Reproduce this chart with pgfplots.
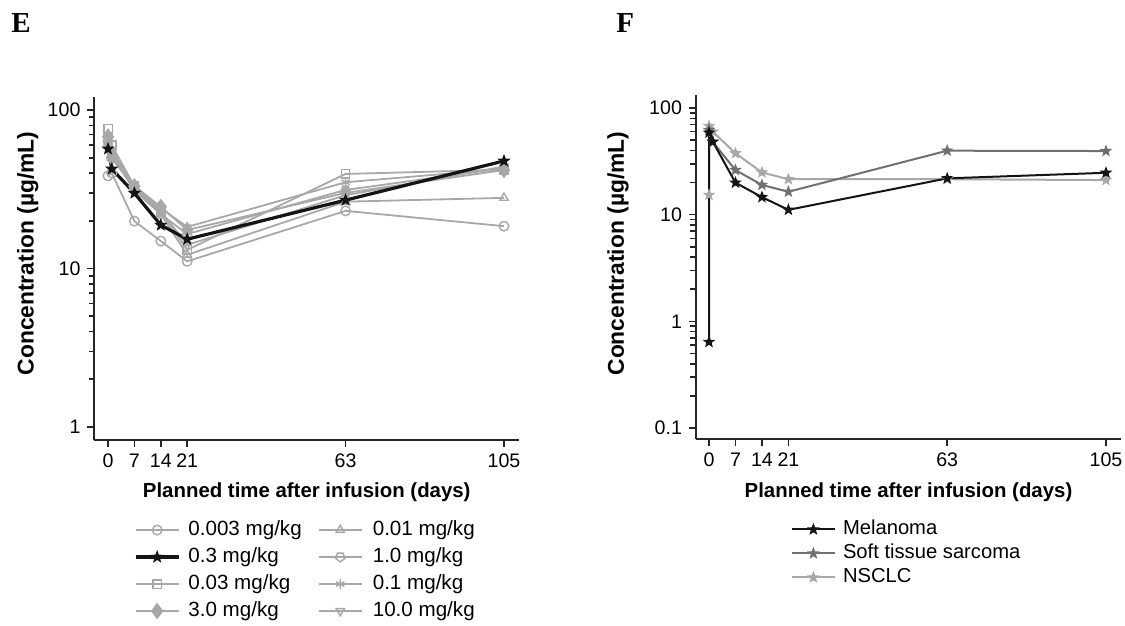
\documentclass[border=0pt]{standalone}
\usepackage{fontspec}
\setmainfont{Liberation Sans}
\newfontfamily\timesb{Liberation Serif}
\usepackage{pgfplots}
\pgfplotsset{compat=1.18}

\definecolor{lg}{RGB}{168,168,168}
\definecolor{mg}{RGB}{112,112,112}
\definecolor{dk}{RGB}{20,20,20}

\pgfdeclareplotmark{fstar}{%
  \pgfpathmoveto{\pgfpointpolar{90}{\pgfplotmarksize}}%
  \pgfpathlineto{\pgfpointpolar{126}{0.42\pgfplotmarksize}}%
  \pgfpathlineto{\pgfpointpolar{162}{\pgfplotmarksize}}%
  \pgfpathlineto{\pgfpointpolar{198}{0.42\pgfplotmarksize}}%
  \pgfpathlineto{\pgfpointpolar{234}{\pgfplotmarksize}}%
  \pgfpathlineto{\pgfpointpolar{270}{0.42\pgfplotmarksize}}%
  \pgfpathlineto{\pgfpointpolar{306}{\pgfplotmarksize}}%
  \pgfpathlineto{\pgfpointpolar{342}{0.42\pgfplotmarksize}}%
  \pgfpathlineto{\pgfpointpolar{18}{\pgfplotmarksize}}%
  \pgfpathlineto{\pgfpointpolar{54}{0.42\pgfplotmarksize}}%
  \pgfpathclose\pgfusepathqfill}

\pgfplotsset{
  legend image code/.code={\draw[mark repeat=2,mark phase=2,#1] plot coordinates {(0cm,0cm) (0.38cm,0cm) (0.76cm,0cm)};},
  /pgf/number format/assume math mode=true,
}

\begin{document}
\begin{tikzpicture}
\useasboundingbox (0,0) rectangle (562.5pt,313pt);
\node[anchor=base west, inner sep=0pt] at (5.5pt,296.5pt) {\timesb\bfseries\fontsize{14.5}{16}\selectfont E};
\node[anchor=base west, inner sep=0pt] at (308pt,296.5pt) {\timesb\bfseries\fontsize{14.5}{16}\selectfont F};

% ---------------- Panel E ----------------
\begin{axis}[at={(47.25pt,93pt)}, anchor=south west,
  scale only axis, width=212.25pt, height=171.5pt,
  ymode=log, axis lines=left,
  axis line style={-, line width=1pt, black!85},
  tick align=outside, major tick length=3.5pt,
  tick style={black!85, line width=0.8pt},
  xtick={0,7,14,21,63,105},
  xmin=-3.58, xmax=108.98, ymin=0.828, ymax=120.8,
  ytick={1,10,100}, yticklabels={1,10,100},
  tick label style={font=\fontsize{9.8}{11}\selectfont},
  label style={font=\bfseries\fontsize{10.2}{12}\selectfont},
  xlabel={Planned time after infusion (days)},
  ylabel={Concentration (µg/mL)},
  xlabel style={at={(axis description cs:0.5,-0.152)}, anchor=center},
  ylabel style={at={(axis description cs:-0.157,0.544)}, anchor=center, font=\bfseries\fontsize{11.4}{13}\selectfont},
  clip=false,
  legend cell align=left,
  legend columns=2,
  legend style={draw=none, fill=none, inner sep=0pt, font=\fontsize{10.3}{12}\selectfont,
     nodes={inner sep=1.5pt, text height=8pt, text depth=2.5pt},
     at={(axis description cs:0.092,-0.222)}, anchor=north west,
     /tikz/column 1/.style={column sep=2.5pt},
     /tikz/column 2/.style={column sep=6.5pt},
     /tikz/column 3/.style={column sep=3.5pt}},
]
\addlegendimage{color=lg, line width=0.9pt, mark=o, mark size=2.4pt, mark options={solid, line width=0.7pt}}\addlegendentry{0.003 mg/kg}
\addlegendimage{color=lg, line width=0.9pt, mark=triangle, mark size=2.4pt, mark options={solid, line width=0.7pt}}\addlegendentry{0.01 mg/kg}
\addlegendimage{color=dk, line width=1.6pt, mark=fstar, mark size=3.5pt}\addlegendentry{0.3 mg/kg}
\addlegendimage{color=lg, line width=0.9pt, mark=pentagon, mark size=2.4pt, mark options={solid, line width=0.7pt, rotate=180}}\addlegendentry{1.0 mg/kg}
\addlegendimage{color=lg, line width=0.9pt, mark=square, mark size=2.1pt, mark options={solid, line width=0.7pt}}\addlegendentry{0.03 mg/kg}
\addlegendimage{color=lg, line width=0.9pt, mark=asterisk, mark size=2.4pt, mark options={solid, line width=0.7pt}}\addlegendentry{0.1 mg/kg}
\addlegendimage{color=lg, line width=0.9pt, mark=diamond*, mark size=3.4pt, mark options={solid, fill=lg}}\addlegendentry{3.0 mg/kg}
\addlegendimage{color=lg, line width=0.9pt, mark=triangle, mark size=2.4pt, mark options={solid, line width=0.7pt, rotate=180}}\addlegendentry{10.0 mg/kg}

% minor y ticks of the log axis, as short horizontal marks on the axis line
\addplot[only marks, forget plot, mark=-, mark size=1.2pt, color=black!85,
  mark options={line width=0.8pt, xshift=-1.2pt}] coordinates {
  (-3.58,2) (-3.58,3) (-3.58,4) (-3.58,5) (-3.58,6) (-3.58,7) (-3.58,8) (-3.58,9)
  (-3.58,20) (-3.58,30) (-3.58,40) (-3.58,50) (-3.58,60) (-3.58,70) (-3.58,80) (-3.58,90)};

% 0.003 mg/kg
\addplot[color=lg, line width=0.9pt, mark=o, mark size=2.4pt, mark options={solid, line width=0.7pt}, forget plot] coordinates {(0,38.4) (1,40) (7,19.9) (14,14.9) (21,11.1) (63,23.1) (105,18.5)};
% 0.01 mg/kg
\addplot[color=lg, line width=0.9pt, mark=triangle, mark size=2.4pt, mark options={solid, line width=0.7pt}, forget plot] coordinates {(0,62) (1,50) (7,32) (14,22) (21,12.2) (63,26.4) (105,27.9)};
% 0.03 mg/kg
\addplot[color=lg, line width=0.9pt, mark=square, mark size=2.1pt, mark options={solid, line width=0.7pt}, forget plot] coordinates {(0,76) (1,60) (7,33) (14,23) (21,13.1) (63,39.5) (105,42)};
% 0.1 mg/kg
\addplot[color=lg, line width=0.9pt, mark=asterisk, mark size=2.4pt, mark options={solid, line width=0.7pt}, forget plot] coordinates {(0,70) (1,55) (7,33.5) (14,24) (21,18.3) (63,35) (105,42.5)};
% 1.0 mg/kg
\addplot[color=lg, line width=0.9pt, mark=pentagon, mark size=2.4pt, mark options={solid, line width=0.7pt, rotate=180}, forget plot] coordinates {(0,65) (1,52) (7,31) (14,22) (21,16.5) (63,31.3) (105,43)};
% 3.0 mg/kg
\addplot[color=lg, line width=0.9pt, mark=diamond*, mark size=3.4pt, mark options={solid, fill=lg}, forget plot] coordinates {(0,68) (1,50) (7,33) (14,24.5) (21,17.5) (63,30) (105,41.8)};
% 10.0 mg/kg
\addplot[color=lg, line width=0.9pt, mark=triangle, mark size=2.4pt, mark options={solid, line width=0.7pt, rotate=180}, forget plot] coordinates {(0,60) (1,53) (7,32) (14,23) (21,14.1) (63,29) (105,44)};
% 0.3 mg/kg
\addplot[color=dk, line width=1.6pt, mark=fstar, mark size=3.5pt, forget plot] coordinates {(0,56.8) (1,42.5) (7,29.9) (14,18.8) (21,15.3) (63,27.0) (105,47.7)};
\end{axis}

% ---------------- Panel F ----------------
\begin{axis}[at={(348pt,93.5pt)}, anchor=south west,
  scale only axis, width=212.5pt, height=172pt,
  ymode=log, axis lines=left,
  axis line style={-, line width=1pt, black!85},
  tick align=outside, major tick length=3.5pt,
  tick style={black!85, line width=0.8pt},
  xtick={0,7,14,21,63,105},
  xmin=-3.44, xmax=108.97, ymin=0.0789, ymax=132.4,
  ytick={0.1,1,10,100}, yticklabels={0.1,1,10,100},
  tick label style={font=\fontsize{9.8}{11}\selectfont},
  label style={font=\bfseries\fontsize{10.2}{12}\selectfont},
  xlabel={Planned time after infusion (days)},
  ylabel={Concentration (µg/mL)},
  xlabel style={at={(axis description cs:0.5,-0.154)}, anchor=center},
  ylabel style={at={(axis description cs:-0.1835,0.539)}, anchor=center, font=\bfseries\fontsize{11.4}{13}\selectfont},
  clip=false,
  legend cell align=left,
  legend style={draw=none, fill=none, inner sep=0pt, font=\fontsize{10.1}{12}\selectfont,
     nodes={inner sep=1.5pt, text height=7.2pt, text depth=1.8pt},
     at={(axis description cs:0.222,-0.227)}, anchor=north west,
     /tikz/column 1/.style={column sep=2pt}},
]
\addlegendimage{color=dk, line width=1pt, mark=fstar, mark size=3.3pt}\addlegendentry{Melanoma}
\addlegendimage{color=mg, line width=1pt, mark=fstar, mark size=3.3pt}\addlegendentry{Soft tissue sarcoma}
\addlegendimage{color=lg, line width=1pt, mark=fstar, mark size=3.3pt}\addlegendentry{NSCLC}

% minor y ticks of the log axis, as short horizontal marks on the axis line
\addplot[only marks, forget plot, mark=-, mark size=1.2pt, color=black!85,
  mark options={line width=0.8pt, xshift=-1.2pt}] coordinates {
  (-3.44,0.2) (-3.44,0.3) (-3.44,0.4) (-3.44,0.5) (-3.44,0.6) (-3.44,0.7) (-3.44,0.8) (-3.44,0.9)
  (-3.44,2) (-3.44,3) (-3.44,4) (-3.44,5) (-3.44,6) (-3.44,7) (-3.44,8) (-3.44,9)
  (-3.44,20) (-3.44,30) (-3.44,40) (-3.44,50) (-3.44,60) (-3.44,70) (-3.44,80) (-3.44,90)};

\addplot[color=lg, line width=1pt, mark=fstar, mark size=3.3pt, forget plot] coordinates {(0,15.3) (0,67.8) (1,60) (7,37.6) (14,24.9) (21,21.5) (63,21.5) (105,21.1)};
\addplot[color=mg, line width=1pt, mark=fstar, mark size=3.3pt, forget plot] coordinates {(0,62.2) (1,48) (7,26.2) (14,19.0) (21,16.4) (63,39.8) (105,39.5)};
\addplot[color=dk, line width=1pt, mark=fstar, mark size=3.3pt, forget plot] coordinates {(0,0.64) (0,58.7) (1,48.3) (7,19.95) (14,14.6) (21,11.1) (63,21.9) (105,24.7)};
\end{axis}
\end{tikzpicture}
\end{document}
